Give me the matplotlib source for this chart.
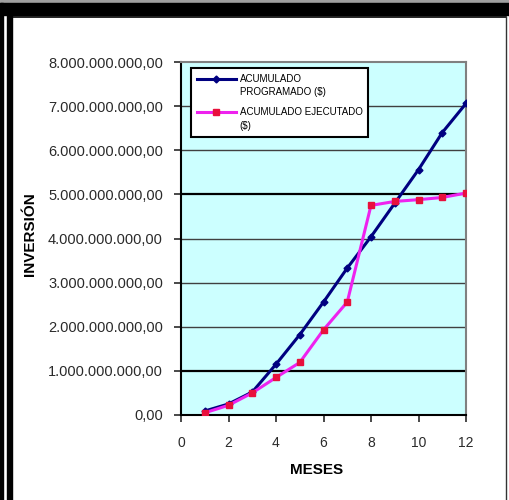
import matplotlib
matplotlib.use("Agg")
import matplotlib.pyplot as plt
from matplotlib.patches import Rectangle
from matplotlib.lines import Line2D
from matplotlib.ticker import FuncFormatter
from matplotlib.legend_handler import HandlerLine2D

plt.rcParams['font.family'] = ['Liberation Sans', 'DejaVu Sans']

# datos
meses = [1, 2, 3, 4, 5, 6, 7, 8, 9, 10, 11, 12]
programado = [0.09e9, 0.25e9, 0.52e9, 1.15e9, 1.82e9, 2.56e9, 3.33e9, 4.04e9,
              4.80e9, 5.56e9, 6.40e9, 7.06e9]
ejecutado = [0.05e9, 0.22e9, 0.50e9, 0.85e9, 1.19e9, 1.93e9, 2.56e9, 4.75e9,
             4.84e9, 4.88e9, 4.93e9, 5.03e9]
etiquetas = ["ACUMULADO\nPROGRAMADO ($)", "ACUMULADO EJECUTADO\n($)"]
yticks = [0, 1e9, 2e9, 3e9, 4e9, 5e9, 6e9, 7e9, 8e9]
xticks = [0, 2, 4, 6, 8, 10, 12]

W, H = 509, 500
fig = plt.figure(figsize=(W / 100, H / 100), dpi=100)
fig.patch.set_facecolor('white')


def px(x, y):
    return x / W, 1 - y / H


# marcos de la imagen
def rect(x0, y0, x1, y1, color):
    fx, fy = px(x0, y1)
    fig.patches.append(Rectangle((fx, fy), (x1 - x0) / W, (y1 - y0) / H,
                                 transform=fig.transFigure, color=color,
                                 zorder=0))


rect(0, 0, W, 3, '#a0a0a0')
rect(0, 3, W, 15, 'black')
rect(0, 3, 3, H, 'black')
rect(7, 15, 12, H, 'black')
fig.lines.append(Line2D([px(12, 0)[0], px(506, 0)[0]], [px(0, 17)[1]] * 2,
                        transform=fig.transFigure, color='black', lw=1.2))
fig.lines.append(Line2D([px(506, 0)[0]] * 2, [px(0, 17)[1], 0],
                        transform=fig.transFigure, color='#333333', lw=1.0))

l, t = px(181, 62)
r, b = px(466, 415)
ax = fig.add_axes([l, b, r - l, t - b])
ax.set_facecolor('#ccffff')

for v in yticks[1:-1]:
    if v in (1e9, 5e9):
        ax.axhline(v, color='black', lw=1.6, zorder=1)
    else:
        ax.axhline(v, color='#404040', lw=1.0, zorder=1)

ax.plot(meses, programado, color='#000080', lw=2.2, marker='D', ms=3.5,
        label=etiquetas[0], zorder=3)
ax.plot(meses, ejecutado, color='#ee22ee', lw=2.2, marker='s', ms=4,
        markerfacecolor='#e8103c', markeredgecolor='#e8103c',
        label=etiquetas[1], zorder=3)

ax.set_xlim(0, 12)
ax.set_ylim(0, 8e9)
ax.set_xticks(xticks)
ax.set_yticks(yticks)


def fmt(v, pos):
    s = "{:,.2f}".format(v)
    return s.replace(",", "X").replace(".", ",").replace("X", ".")


ax.yaxis.set_major_formatter(FuncFormatter(fmt))
ax.tick_params(axis='both', labelsize=10.5, colors='#2a2a2a', length=5,
               width=1.2, direction='out')
ax.tick_params(axis='x', pad=10, labelsize=10)
ax.tick_params(axis='y', pad=8)
for s in ax.spines.values():
    s.set_color('#808080')
    s.set_linewidth(1.5)
ax.spines['left'].set_color('black')
ax.spines['bottom'].set_color('black')

ax.set_xlabel("MESES", fontsize=11, fontweight='bold')
ax.xaxis.set_label_coords(0.475, -0.135)
ax.set_ylabel("INVERSIÓN", fontsize=11, fontweight='bold')
ax.yaxis.set_label_coords(-0.505, 0.513)


class HandlerArriba(HandlerLine2D):
    # sube la muestra para alinearla con la primera linea del texto
    def create_artists(self, legend, orig_handle, xdescent, ydescent,
                       width, height, fontsize, trans):
        arts = super().create_artists(legend, orig_handle, xdescent, ydescent,
                                      width, height, fontsize, trans)
        for a in arts:
            a.set_ydata([y + 0.75 * fontsize for y in a.get_ydata()])
        return arts


leg = ax.legend(loc='upper left', bbox_to_anchor=(0.035, 0.983),
                borderaxespad=0, fontsize=7, frameon=True, fancybox=False,
                handlelength=4.0, handletextpad=0.4, labelspacing=1.0,
                borderpad=0.6, framealpha=1,
                handler_map={Line2D: HandlerArriba()})
for tx in leg.get_texts():
    tx.set_linespacing(1.45)
leg.get_frame().set_edgecolor('black')
leg.get_frame().set_linewidth(1.5)

fig.savefig("out.png", dpi=100)
